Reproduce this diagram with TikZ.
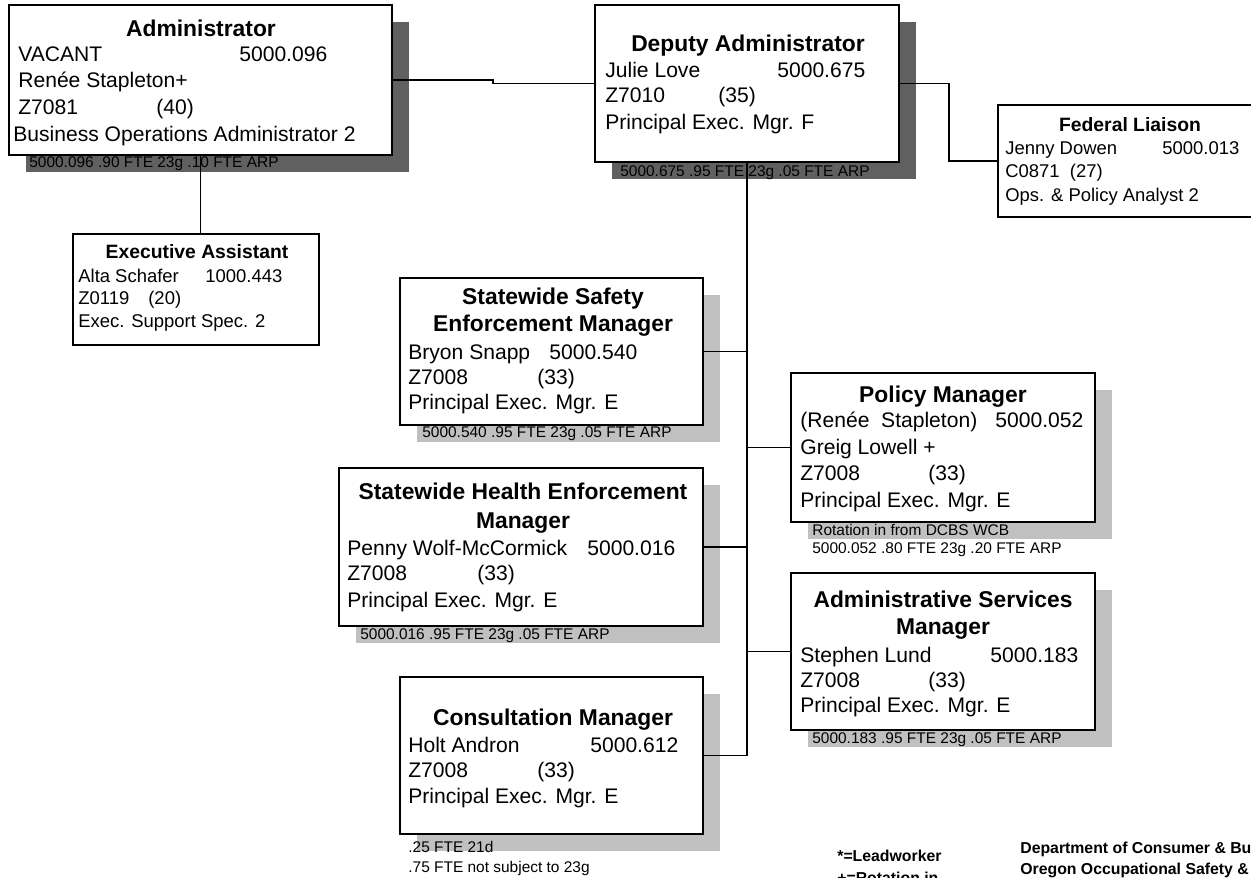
\documentclass[tikz,border=0pt]{standalone}
\usepackage{fontspec}
\setmainfont{Liberation Sans}
\usepackage{tikz}
\usetikzlibrary{positioning, fit, shadows}
\definecolor{shadedark}{RGB}{96,96,96}
\definecolor{shadelight}{RGB}{192,192,192}
\newcommand{\boxfont}{\fontsize{12}{14}\selectfont}
\newcommand{\ttlfont}{\fontsize{13}{15}\selectfont\bfseries}
\newcommand{\eafont}{\fontsize{10.5}{12.5}\selectfont}
\newcommand{\eattlfont}{\fontsize{11}{13}\selectfont\bfseries}
\newcommand{\notefont}{\fontsize{8.8}{10}\selectfont}
\newcommand{\legfont}{\fontsize{9}{11}\selectfont\bfseries}
\tikzset{
  orgbox/.style={rectangle, draw=black, fill=white, line width=0.8pt, inner sep=0pt},
  darkshade/.style={drop shadow={shadow xshift=0.34cm, shadow yshift=-0.34cm,
    fill=shadedark, opacity=1}},
  lightshade/.style={drop shadow={shadow xshift=0.34cm, shadow yshift=-0.34cm,
    fill=shadelight, opacity=1}},
  ttl/.style={anchor=base, font=\ttlfont, inner sep=0pt},
  txt/.style={anchor=base west, font=\boxfont, inner sep=0pt},
  eattl/.style={anchor=base, font=\eattlfont, inner sep=0pt},
  eatxt/.style={anchor=base west, font=\eafont, inner sep=0pt},
  note/.style={anchor=base west, font=\notefont, inner sep=0pt},
  legend/.style={anchor=base west, font=\legfont, inner sep=0pt},
  link/.style={line width=0.8pt, color=black}
}

\begin{document}
\begin{tikzpicture}[x=0.02cm, y=-0.02cm]
  \useasboundingbox (0,0) rectangle (1251,878);

  % Boxes
  \node[orgbox, darkshade, fit={(9,5) (392,155)}] (adm) {};
  \node[orgbox, darkshade, fit={(595,5) (899,162)}] (dep) {};
  \node[orgbox, fit={(998,105) (1256,217)}] (fed) {};
  \node[orgbox, fit={(73,234) (319,345)}] (exa) {};
  \node[orgbox, lightshade, fit={(400,278) (703,425)}] (saf) {};
  \node[orgbox, lightshade, fit={(791,373) (1095,522)}] (pol) {};
  \node[orgbox, lightshade, fit={(339,468) (703,626)}] (hea) {};
  \node[orgbox, lightshade, fit={(791,573) (1095,730)}] (ads) {};
  \node[orgbox, lightshade, fit={(400,677) (703,834)}] (con) {};

  % Connectors
  \coordinate (admjog) at (493,0);
  \coordinate (fedjog) at (949,161);
  \draw[link] (adm.east) -- (adm.east -| admjog) -- (admjog |- dep.west) -- (dep.west);
  \draw[link] (dep.east) -| (fedjog) -- (fed.west);
  \draw[link] (adm.south) -- (adm.south |- exa.north);
  \draw[link] (dep.south) -- (dep.south |- con.east) -- (con.east);
  \draw[link] (saf.east) -- (saf.east -| dep.south);
  \draw[link] (hea.east) -- (hea.east -| dep.south);
  \draw[link] (pol.west) -- (pol.west -| dep.south);
  \draw[link] (ads.west) -- (ads.west -| dep.south);

  % Administrator
  \node[ttl] (admT) at (201,37) {Administrator};
  \node[txt] (admN) at (18,62) {VACANT};
  \node[txt] (admP) at (239,62) {5000.096};
  \node[txt] (admR) at (18,88) {Renée Stapleton+};
  \node[txt] (admC) at (18,115) {Z7081};
  \node[txt] (admG) at (156,115) {(40)};
  \node[txt] (admJ) at (13,142) {Business Operations Administrator 2};
  \node[note] (admF) at (29,168) {5000.096 .90 FTE 23g .10 FTE ARP};

  % Deputy Administrator
  \node[ttl] (depT) at (748,52) {Deputy Administrator};
  \node[txt] (depN) at (605,78) {Julie Love};
  \node[txt] (depP) at (777,78) {5000.675};
  \node[txt] (depC) at (605,103) {Z7010};
  \node[txt] (depG) at (718,103) {(35)};
  \node[txt] (depJ) at (605,130) {Principal Exec. Mgr. F};
  \node[note] (depF) at (620,177) {5000.675 .95 FTE 23g .05 FTE ARP};

  % Federal Liaison
  \node[eattl] (fedT) at (1130,132) {Federal Liaison};
  \node[eatxt] (fedN) at (1005,155) {Jenny Dowen};
  \node[eatxt] (fedP) at (1162,155) {5000.013};
  \node[eatxt] (fedC) at (1005,178) {C0871\ \ (27)};
  \node[eatxt] (fedJ) at (1005,202) {Ops. \& Policy Analyst 2};

  % Executive Assistant
  \node[eattl] (exaT) at (197,259) {Executive Assistant};
  \node[eatxt] (exaN) at (78,283) {Alta Schafer};
  \node[eatxt] (exaP) at (205,283) {1000.443};
  \node[eatxt] (exaC) at (78,305) {Z0119};
  \node[eatxt] (exaG) at (148,305) {(20)};
  \node[eatxt] (exaJ) at (78,328) {Exec. Support Spec. 2};

  % Statewide Safety Enforcement Manager
  \node[ttl] (safT) at (553,305) {Statewide Safety};
  \node[ttl] (safU) at (553,332) {Enforcement Manager};
  \node[txt] (safN) at (408,360) {Bryon Snapp};
  \node[txt] (safP) at (549,360) {5000.540};
  \node[txt] (safC) at (408,385) {Z7008};
  \node[txt] (safG) at (537,385) {(33)};
  \node[txt] (safJ) at (408,410) {Principal Exec. Mgr. E};
  \node[note] (safF) at (422,438) {5000.540 .95 FTE 23g .05 FTE ARP};

  % Policy Manager
  \node[ttl] (polT) at (943,403) {Policy Manager};
  \node[txt] (polN) at (800,428) {(Renée\ \ Stapleton)};
  \node[txt] (polP) at (995,428) {5000.052};
  \node[txt] (polR) at (800,455) {Greig Lowell +};
  \node[txt] (polC) at (800,480) {Z7008};
  \node[txt] (polG) at (928,480) {(33)};
  \node[txt] (polJ) at (800,507) {Principal Exec. Mgr. E};
  \node[note] (polF) at (812,535) {Rotation in from DCBS WCB};
  \node[note] (polH) at (812,553) {5000.052 .80 FTE 23g .20 FTE ARP};

  % Statewide Health Enforcement Manager
  \node[ttl] (heaT) at (523,500) {Statewide Health Enforcement};
  \node[ttl] (heaU) at (523,528) {Manager};
  \node[txt] (heaN) at (347,555) {Penny Wolf-McCormick};
  \node[txt] (heaP) at (587,555) {5000.016};
  \node[txt] (heaC) at (347,580) {Z7008};
  \node[txt] (heaG) at (477,580) {(33)};
  \node[txt] (heaJ) at (347,607) {Principal Exec. Mgr. E};
  \node[note] (heaF) at (360,639) {5000.016 .95 FTE 23g .05 FTE ARP};

  % Administrative Services Manager
  \node[ttl] (adsT) at (943,607) {Administrative Services};
  \node[ttl] (adsU) at (943,634) {Manager};
  \node[txt] (adsN) at (800,662) {Stephen Lund};
  \node[txt] (adsP) at (990,662) {5000.183};
  \node[txt] (adsC) at (800,687) {Z7008};
  \node[txt] (adsG) at (928,687) {(33)};
  \node[txt] (adsJ) at (800,712) {Principal Exec. Mgr. E};
  \node[note] (adsF) at (812,743) {5000.183 .95 FTE 23g .05 FTE ARP};

  % Consultation Manager
  \node[ttl] (conT) at (553,725) {Consultation Manager};
  \node[txt] (conN) at (408,752) {Holt Andron};
  \node[txt] (conP) at (590,752) {5000.612};
  \node[txt] (conC) at (408,777) {Z7008};
  \node[txt] (conG) at (537,777) {(33)};
  \node[txt] (conJ) at (408,803) {Principal Exec. Mgr. E};
  \node[note] (conF) at (408,852) {.25 FTE 21d};
  \node[note] (conH) at (408,872) {.75 FTE not subject to 23g};

  % Legend and agency
  \node[legend] (legA) at (837,861) {*=Leadworker};
  \node[legend] (legB) at (837,883) {+=Rotation in};
  \node[legend] (agyA) at (1020,853) {Department of Consumer \& Bu};
  \node[legend] (agyB) at (1020,874) {Oregon Occupational Safety \&};
\end{tikzpicture}
\end{document}
